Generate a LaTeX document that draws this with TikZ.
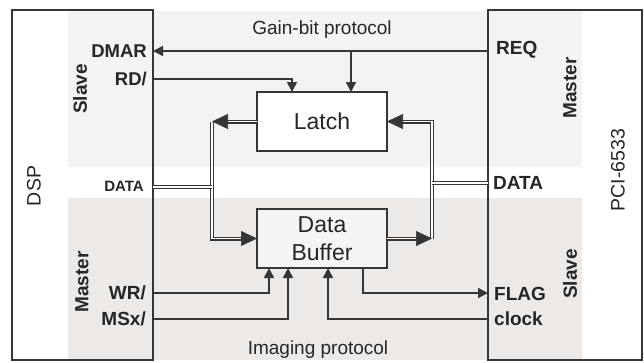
\documentclass[tikz,border=0pt]{standalone}
\usepackage{fontspec}
\setmainfont{Liberation Sans}
\usetikzlibrary{arrows.meta,calc}

\definecolor{ink}{HTML}{363636}
\definecolor{txt}{HTML}{262626}
\definecolor{topbg}{HTML}{F1F4F0}
\definecolor{botbg}{HTML}{ECE9E6}
\definecolor{buffill}{HTML}{F7F5F3}

\begin{document}
\begin{tikzpicture}[x=1pt,y=-1pt,
  frame/.style={draw=ink, line width=1.2pt, inner sep=0pt, outer sep=0pt, anchor=north west},
  block/.style={frame, line width=1.4pt, text=txt, align=center},
  sig/.style={draw=ink, line width=1.7pt, -{Triangle[length=10pt,width=10pt]}},
  bus/.style={draw=ink, line width=1.3pt, double=white, double distance=1.4pt},
  bustip/.style={draw=ink, line width=0.6pt, -{Triangle[length=16pt,width=15pt]}},
  lbl/.style={inner sep=0pt, text=txt, font=\fontsize{19}{21}\selectfont\bfseries},
  captxt/.style={inner sep=0pt, text=txt, font=\fontsize{19}{21}\selectfont}
]
\useasboundingbox (0,0) rectangle (644,362);

% protocol regions
\fill[topbg] (68,11) rectangle (582,167);
\fill[botbg] (68,198) rectangle (582,360);

% the two boards
\node[frame, minimum width=141pt, minimum height=350pt] (dsp) at (12,10) {};
\node[frame, minimum width=154pt, minimum height=350pt] (pci) at (488,10) {};

% inner blocks
\node[block, fill=white, minimum width=130pt, minimum height=59pt,
      font=\fontsize{23}{27}\selectfont] (latch) at (257,92) {Latch};
\node[block, fill=buffill, minimum width=130pt, minimum height=59pt,
      font=\fontsize{23}{28}\selectfont] (buf) at (257,209) {Data\\Buffer};

% board titles and roles
\node[captxt, rotate=90, font=\fontsize{19.5}{21}\selectfont] (dspname) at (34,186) {DSP};
\node[captxt, rotate=90, font=\fontsize{19.5}{21}\selectfont] (pciname) at (618,170) {PCI-6533};
\node[lbl, rotate=90] (slaveL) at (80,89) {Slave};
\node[lbl, rotate=90] (masterL) at (82,282) {Master};
\node[lbl, rotate=90] (masterR) at (570,88) {Master};
\node[lbl, rotate=90] (slaveR) at (570,274) {Slave};

% protocol captions
\node[captxt] (gain) at (322,30) {Gain-bit protocol};
\node[captxt] (imaging) at (318,350) {Imaging protocol};

% DSP pins
\node[lbl, anchor=east, font=\fontsize{18.5}{20}\selectfont\bfseries] (dmar) at (147,51) {DMAR};
\node[lbl, anchor=east, font=\fontsize{18.5}{20}\selectfont\bfseries] (rd) at (147,79) {RD/};
\node[lbl, anchor=east, font=\fontsize{15}{17}\selectfont\bfseries] (dataL) at (144,186) {DATA};
\node[lbl, anchor=east] (wr) at (146,293) {WR/};
\node[lbl, anchor=east] (msx) at (146,319) {MSx/};

% PCI pins
\node[lbl, anchor=west] (req) at (496,50) {REQ};
\node[lbl, anchor=west] (dataR) at (493,183) {DATA};
\node[lbl, anchor=west] (flag) at (494,294) {FLAG};
\node[lbl, anchor=west] (clk) at (494,319) {clock};

% pin attachment points on the board edges
\coordinate (reqP) at (488,51);
\coordinate (dmarP) at (153,51);
\coordinate (gainP) at (351,51);
\coordinate (rdP) at (153,79);
\coordinate (dspData) at (153,187);
\coordinate (pciData) at (488,183);
\coordinate (wrP) at (153,293);
\coordinate (msxP) at (153,319);
\coordinate (clkP) at (488,319);
\coordinate (flagP) at (488,293);

% gain-bit handshake
\draw[sig] (reqP) -- (dmarP);
\draw[sig] (gainP) -- (gainP |- latch.north);
\draw[sig] (rdP) -| ($(latch.north west)+(35,0)$);

% data buses
\coordinate (lbusT) at (212,0 |- latch.west);
\coordinate (lbusB) at (212,0 |- buf.west);
\coordinate (rbusT) at (432,0 |- latch.east);
\coordinate (rbusB) at (432,0 |- buf.east);

\draw[bus] (latch.west) -- ($(lbusT)+(10,0)$);
\draw[bustip] ($(lbusT)+(2,0)$) -- (lbusT);
\draw[bus] (lbusT) -- (lbusB) -- ($(buf.west)+(-10,0)$);
\draw[bustip] ($(buf.west)+(-2,0)$) -- (buf.west);
\draw[bus] (dspData) -- (dspData -| lbusT);

\draw[bus] (rbusB) -- (rbusT) -- ($(latch.east)+(10,0)$);
\draw[bustip] ($(latch.east)+(2,0)$) -- (latch.east);
\draw[bus] (buf.east) -- ($(rbusB)+(-10,0)$);
\draw[bustip] ($(rbusB)+(-2,0)$) -- (rbusB);
\draw[bus] (pciData) -- (pciData -| rbusT);

% imaging handshake
\draw[sig] (wrP) -| ($(buf.south west)+(12,0)$);
\draw[sig] (msxP) -| ($(buf.south west)+(31,0)$);
\draw[sig] (clkP) -| ($(buf.south west)+(71,0)$);
\draw[sig] ($(buf.south west)+(106,0)$) |- (flagP);
\end{tikzpicture}
\end{document}
